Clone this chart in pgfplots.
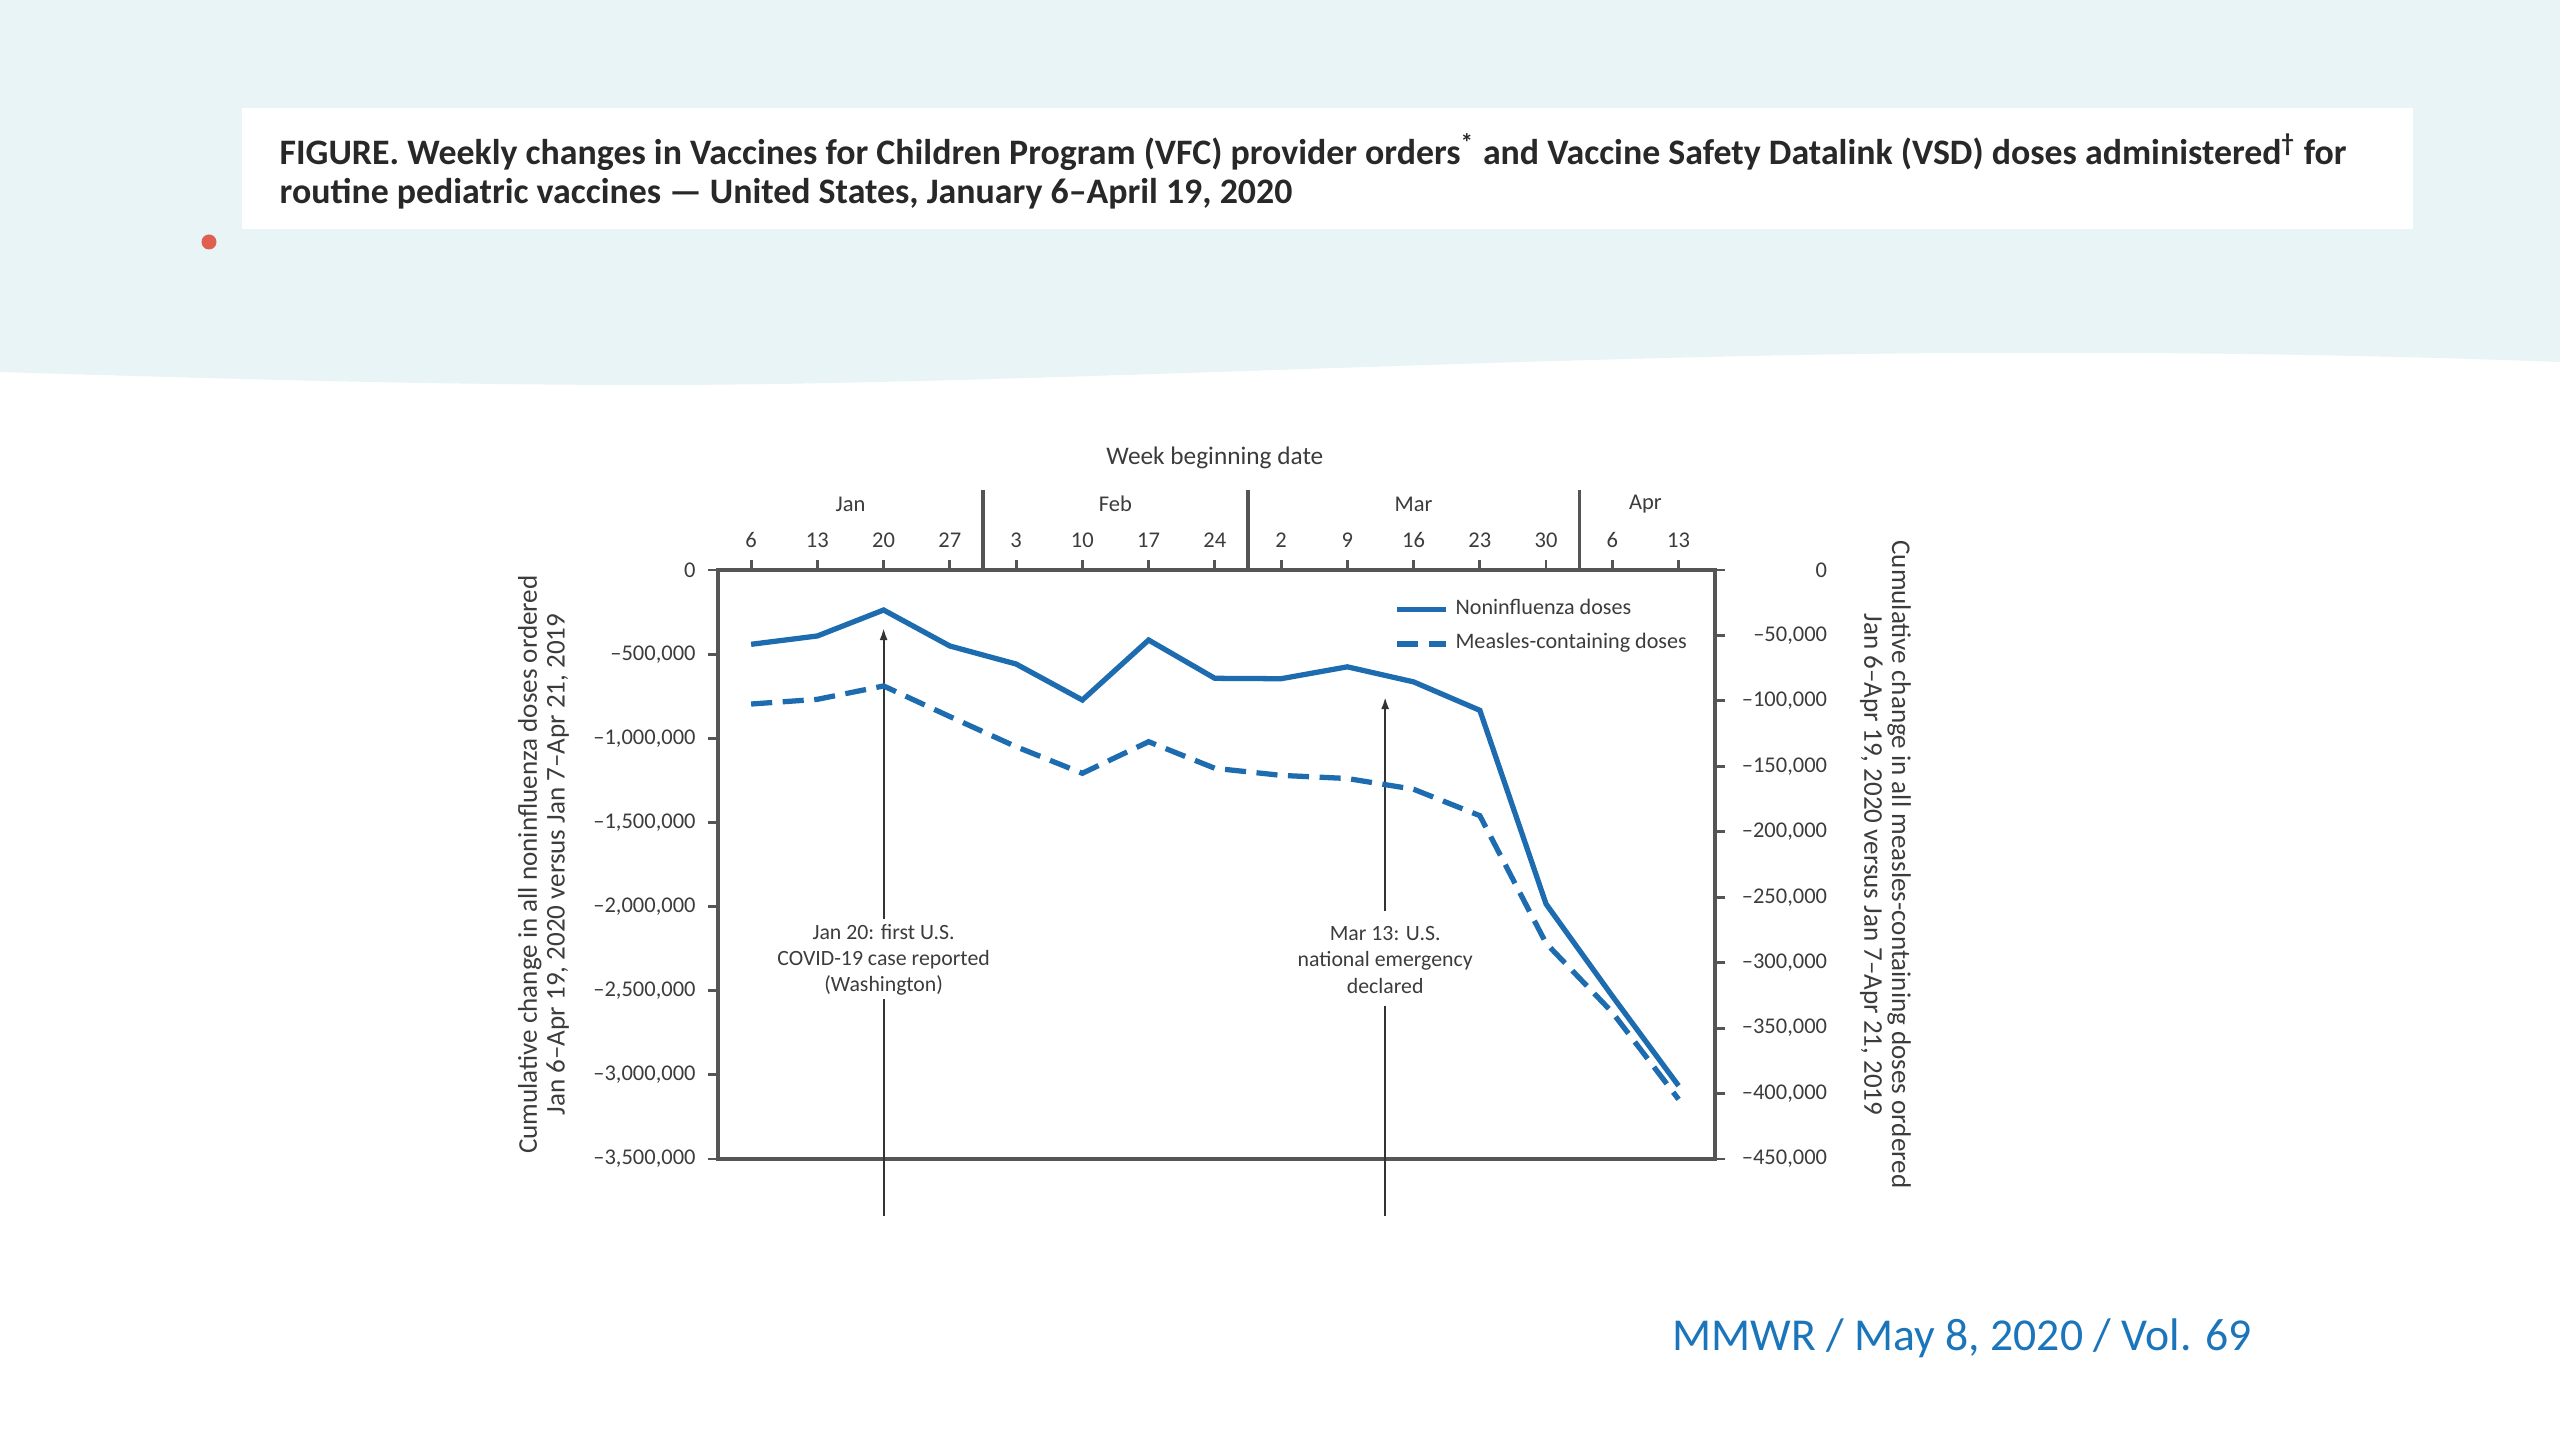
\documentclass[border=0pt]{standalone}
\usepackage{pgfplots}
\pgfplotsset{compat=1.18}
\usepackage{fontspec}
\setmainfont{Carlito}
\usetikzlibrary{arrows.meta}

\definecolor{bgblue}{RGB}{232,244,246}
\definecolor{lineblue}{RGB}{30,108,176}
\definecolor{mmwrblue}{RGB}{27,117,187}
\definecolor{axiscol}{RGB}{85,85,85}
\definecolor{txtcol}{RGB}{60,60,60}
\definecolor{titlecol}{RGB}{40,40,40}
\definecolor{dotred}{RGB}{224,96,80}

\begin{document}
\begin{tikzpicture}
\useasboundingbox (0,0) rectangle (25.6,14.4);
\fill[white] (0,0) rectangle (25.6,14.4);
% light blue header with a soft wave
\fill[bgblue] (0,14.4) -- (25.6,14.4) -- (25.6,10.78)
  .. controls (23.5,10.86) and (21.5,10.88) .. (19.59,10.87)
  .. controls (15.5,10.85) and (10,10.55) .. (6.53,10.55)
  .. controls (4.2,10.55) and (2,10.62) .. (0,10.68) -- cycle;
\fill[white] (2.42,12.11) rectangle (24.13,13.32);
\fill[dotred] (2.09,11.98) circle (0.075);

\node[anchor=base west, inner sep=0, text=titlecol, font=\fontsize{10.2}{12}\selectfont\bfseries]
  at (2.79,12.755) {FIGURE. Weekly changes in Vaccines for Children Program (VFC) provider orders\textsuperscript{*} and Vaccine Safety Datalink (VSD) doses administered\textsuperscript{†} for};
\node[anchor=base west, inner sep=0, text=titlecol, font=\fontsize{10.2}{12}\selectfont\bfseries]
  at (2.79,12.36) {routine pediatric vaccines — United States, January 6–April 19, 2020};

\node[anchor=base west, inner sep=0, text=mmwrblue, font=\fontsize{13}{15}\selectfont]
  at (16.72,0.90) {MMWR / May 8, 2020 / Vol. 69};

% left axis: noninfluenza doses
\begin{axis}[
  at={(7.18cm,2.81cm)}, anchor=south west,
  width=9.97cm, height=5.89cm, scale only axis,
  xmin=-0.5, xmax=14.55,
  ymin=-3500000, ymax=0,
  clip=false,
  axis line style={axiscol, line width=0.9pt},
  tick style={axiscol, line width=0.8pt},
  tick align=outside,
  major tick length=0.1cm,
  xtick pos=right, xticklabel pos=right,
  ytick pos=left,
  xtick={0,1,2,3,4,5,6,7,8,9,10,11,12,13,14},
  xticklabels={6,13,20,27,3,10,17,24,2,9,16,23,30,6,13},
  ytick={-3500000,-3000000,-2500000,-2000000,-1500000,-1000000,-500000,0},
  yticklabels={{–3,500,000},{–3,000,000},{–2,500,000},{–2,000,000},{–1,500,000},{–1,000,000},{–500,000},0},
  scaled y ticks=false,
  ticklabel style={font=\fontsize{6.4}{7.5}\selectfont, text=txtcol},
  ylabel={Cumulative change in all noninfluenza doses ordered\\Jan 6–Apr 19, 2020 versus Jan 7–Apr 21, 2019},
  ylabel style={at={(axis description cs:-0.175,0.5)}, anchor=center, align=center,
    font=\fontsize{7.7}{7.9}\selectfont, text=txtcol},
  legend style={draw=none, fill=none, at={(axis description cs:0.667,0.976)}, anchor=north west,
    font=\fontsize{6.3}{7.5}\selectfont, text=txtcol},
  legend cell align=left,
  legend image code/.code={\draw[#1] (0cm,0cm) -- (0.49cm,0cm);},
]
\addplot[lineblue, line width=1.5pt] coordinates {
  (0,-441500) (1,-392000) (2,-237700) (3,-451600) (4,-558600)
  (5,-772500) (6,-416000) (7,-643700) (8,-646000) (9,-575400)
  (10,-664800) (11,-833800) (12,-1984800) (13,-2531700) (14,-3065000)
};
\addlegendentry{Noninfluenza doses}
\addlegendimage{lineblue, line width=1.5pt, dash pattern=on 6pt off 3pt}
\addlegendentry{Measles-containing doses}

% month separators and labels
\draw[axiscol, line width=0.9pt] (axis cs:3.5,0) -- (axis cs:3.5,475400);
\draw[axiscol, line width=0.9pt] (axis cs:7.5,0) -- (axis cs:7.5,475400);
\draw[axiscol, line width=0.9pt] (axis cs:12.5,0) -- (axis cs:12.5,475400);
\node[font=\fontsize{6.4}{7.5}\selectfont, text=txtcol] at (axis cs:1.5,392000) {Jan};
\node[font=\fontsize{6.4}{7.5}\selectfont, text=txtcol] at (axis cs:5.5,392000) {Feb};
\node[font=\fontsize{6.4}{7.5}\selectfont, text=txtcol] at (axis cs:10,392000) {Mar};
\node[font=\fontsize{6.4}{7.5}\selectfont, text=txtcol] at (axis cs:13.5,392000) {Apr};
\node[font=\fontsize{7.2}{8.5}\selectfont, text=txtcol] at (axis cs:7,664000) {Week beginning date};

% event annotations
\draw[black!80, line width=0.6pt] (axis cs:2,-3838700) -- (axis cs:2,-2549300);
\draw[black!80, line width=0.6pt, -{Latex[length=0.12cm,width=0.08cm]}] (axis cs:2,-2073900) -- (axis cs:2,-344700);
\node[align=center, font=\fontsize{6.2}{7.4}\selectfont, text=txtcol] at (axis cs:2,-2317500)
  {Jan 20: first U.S.\\COVID-19 case reported\\(Washington)};
\draw[black!80, line width=0.6pt] (axis cs:9.571,-3838700) -- (axis cs:9.571,-2590900);
\draw[black!80, line width=0.6pt, -{Latex[length=0.12cm,width=0.08cm]}] (axis cs:9.571,-2026400) -- (axis cs:9.571,-754700);
\node[align=center, font=\fontsize{6.2}{7.4}\selectfont, text=txtcol] at (axis cs:9.571,-2317500)
  {Mar 13: U.S.\\national emergency\\declared};
\end{axis}

% right axis: measles-containing doses
\begin{axis}[
  at={(7.18cm,2.81cm)}, anchor=south west,
  width=9.97cm, height=5.89cm, scale only axis,
  xmin=-0.5, xmax=14.55,
  ymin=-450000, ymax=0,
  axis x line=none,
  axis y line*=right,
  axis line style={axiscol, line width=0.9pt, -},
  tick style={axiscol, line width=0.8pt},
  tick align=outside,
  major tick length=0.1cm,
  ytick={-450000,-400000,-350000,-300000,-250000,-200000,-150000,-100000,-50000,0},
  yticklabels={{–450,000},{–400,000},{–350,000},{–300,000},{–250,000},{–200,000},{–150,000},{–100,000},{–50,000},0},
  scaled y ticks=false,
  yticklabel style={font=\fontsize{6.4}{7.5}\selectfont, text=txtcol, anchor=east, xshift=1.145cm},
  ylabel={Cumulative change in all measles-containing doses ordered\\Jan 6–Apr 19, 2020 versus Jan 7–Apr 21, 2019},
  ylabel style={at={(axis description cs:1.171,0.5)}, anchor=center, align=center, rotate=180,
    font=\fontsize{7.7}{7.9}\selectfont, text=txtcol},
]
\addplot[lineblue, line width=1.5pt, dash pattern=on 6pt off 3pt] coordinates {
  (0,-102400) (1,-98800) (2,-88600) (3,-112000) (4,-135000)
  (5,-155300) (6,-131200) (7,-151500) (8,-156900) (9,-159300)
  (10,-167500) (11,-187700) (12,-285200) (13,-338000) (14,-404400)
};
\end{axis}
\end{tikzpicture}
\end{document}
